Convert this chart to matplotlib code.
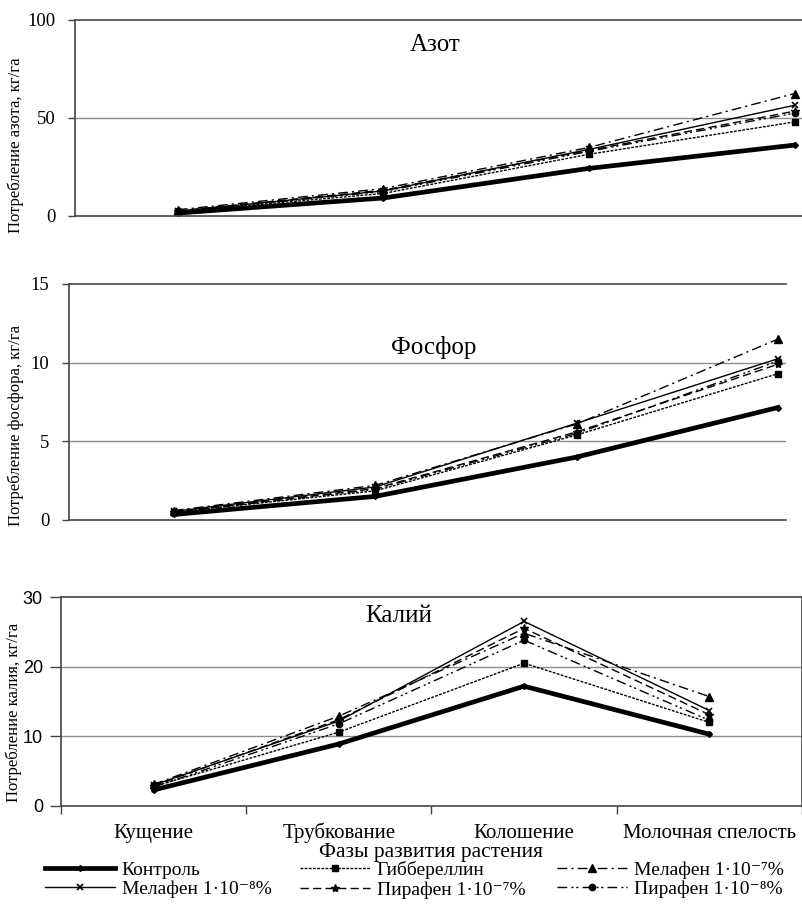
import matplotlib
matplotlib.use("Agg")
import matplotlib.pyplot as plt
from matplotlib.lines import Line2D

plt.rcParams["font.family"] = ["Liberation Serif", "DejaVu Serif"]

phases = ["Кущение", "Трубкование", "Колошение", "Молочная спелость"]
variants = ["Контроль", "Гиббереллин", "Мелафен 1·10⁻⁷%",
            "Мелафен 1·10⁻⁸%", "Пирафен 1·10⁻⁷%", "Пирафен 1·10⁻⁸%"]

# потребление, кг/га
nitrogen_control = [1.5, 9.2, 24.3, 36.2]
nitrogen_gibb = [2.2, 11.5, 31.5, 48.0]
nitrogen_mel7 = [3.2, 14.0, 35.0, 62.5]
nitrogen_mel8 = [2.5, 12.8, 34.0, 56.5]
nitrogen_pir7 = [2.6, 13.2, 33.5, 53.5]
nitrogen_pir8 = [2.4, 12.5, 33.0, 52.5]

phosphorus_control = [0.35, 1.5, 4.0, 7.15]
phosphorus_gibb = [0.5, 1.85, 5.4, 9.3]
phosphorus_mel7 = [0.6, 2.2, 6.1, 11.5]
phosphorus_mel8 = [0.55, 2.1, 6.15, 10.25]
phosphorus_pir7 = [0.5, 2.0, 5.6, 9.9]
phosphorus_pir8 = [0.5, 1.95, 5.5, 10.1]

potassium_control = [2.3, 8.9, 17.2, 10.3]
potassium_gibb = [2.8, 10.6, 20.5, 12.0]
potassium_mel7 = [3.1, 12.9, 24.8, 15.7]
potassium_mel8 = [3.0, 12.2, 26.5, 13.7]
potassium_pir7 = [2.9, 12.4, 25.5, 13.1]
potassium_pir8 = [2.7, 11.8, 23.8, 12.3]

styles = [
    dict(color="black", lw=3.4, ls="-", marker="D", ms=3),
    dict(color="black", lw=1.0, ls=(0, (2, 1)), marker="s", ms=5),
    dict(color="black", lw=1.0, ls=(0, (7, 3, 1.5, 3)), marker="^", ms=6),
    dict(color="black", lw=1.0, ls="-", marker="x", ms=4, mew=1.2),
    dict(color="black", lw=1.0, ls=(0, (6, 3)), marker="*", ms=6),
    dict(color="black", lw=1.0, ls=(0, (7, 3, 1.5, 2, 1.5, 3)), marker="o", ms=4.5),
]

W, H = 803, 910
fig = plt.figure(figsize=(W / 100, H / 100), dpi=100)


def box(left, top, right, bottom):
    return [left / W, 1 - bottom / H, (right - left) / W, (bottom - top) / H]


panels = [
    dict(rect=box(75, 20, 803, 216), ymax=100, ystep=50, xlim=(-0.50, 3.04),
         series=[nitrogen_control, nitrogen_gibb, nitrogen_mel7,
                 nitrogen_mel8, nitrogen_pir7, nitrogen_pir8],
         title="Азот", tpos=(0.495, 0.872),
         ylabel="Потребление азота, кг/га", lx=24, ly=0.36),
    dict(rect=box(69, 284, 786, 520), ymax=15, ystep=5, xlim=(-0.52, 3.04),
         series=[phosphorus_control, phosphorus_gibb, phosphorus_mel7,
                 phosphorus_mel8, phosphorus_pir7, phosphorus_pir8],
         title="Фосфор", tpos=(0.508, 0.729),
         ylabel="Потребление фосфора, кг/га", lx=24, ly=0.40),
    dict(rect=box(61, 597, 802, 806), ymax=30, ystep=10, xlim=(-0.5, 3.5),
         series=[potassium_control, potassium_gibb, potassium_mel7,
                 potassium_mel8, potassium_pir7, potassium_pir8],
         title="Калий", tpos=(0.456, 0.909),
         ylabel="Потребление калия, кг/га", lx=22, ly=0.45),
]

x = list(range(len(phases)))
for i, p in enumerate(panels):
    ax = fig.add_axes(p["rect"])
    for vals, st in zip(p["series"], styles):
        ax.plot(x, vals, clip_on=False, **st)
    ax.set_xlim(*p["xlim"])
    ax.set_ylim(0, p["ymax"])
    ticks = list(range(0, p["ymax"] + 1, p["ystep"]))
    ax.set_yticks(ticks)
    for t in ticks[1:-1]:
        ax.axhline(t, color="#8c8c8c", lw=1.0, zorder=0)
    for s in ["left", "top", "bottom", "right"]:
        ax.spines[s].set_color("#444444")
        ax.spines[s].set_linewidth(1.2)
    ax.text(*p["tpos"], p["title"], transform=ax.transAxes, fontsize=18,
            ha="center", va="center")
    ax_w = p["rect"][2] * W
    ax_left = p["rect"][0] * W
    if i < 2:
        ax.spines["right"].set_visible(False)
        ax.set_xticks([])
        ax.tick_params(axis="y", direction="out", length=5, width=1,
                       color="#444444", labelsize=13.5, pad=9)
        ax.set_ylabel(p["ylabel"], fontsize=12)
    else:
        ax.set_xticks([-0.5, 0.5, 1.5, 2.5, 3.5])
        ax.set_xticklabels([])
        ax.set_xticks(x, minor=True)
        ax.set_xticklabels(phases, minor=True, fontsize=15)
        for lab in ax.get_xticklabels(minor=True):
            lab.set_verticalalignment("baseline")
        ax.tick_params(axis="x", which="major", direction="out", length=6,
                       width=1, color="#444444")
        ax.tick_params(axis="x", which="minor", length=0, pad=23)
        ax.set_xlabel("Фазы развития растения", fontsize=15.5)
        ax.xaxis.set_label_coords(0.5, -0.178)
        ax.tick_params(axis="y", direction="out", length=8, width=1,
                       color="#444444", labelsize=13, pad=5)
        for lab in ax.get_yticklabels():
            lab.set_family(["Liberation Sans", "DejaVu Sans"])
        ax.set_ylabel(p["ylabel"], fontsize=12)
    ax.yaxis.set_label_coords(-(ax_left - p["lx"]) / ax_w, p["ly"])

# legend in three columns
handles = [Line2D([], [], **st) for st in styles]
cols = [(0, 3), (1, 4), (2, 5)]
col_x = [45, 300, 557]
for (a, b), cx in zip(cols, col_x):
    fig.legend([handles[a], handles[b]], [variants[a], variants[b]],
               loc="upper left", bbox_to_anchor=(cx / W, 1 - 861 / H),
               frameon=False, fontsize=14, handlelength=3.6, handletextpad=0.35,
               labelspacing=0.1, borderpad=0, borderaxespad=0, numpoints=1)

fig.savefig("out.png", dpi=100)
